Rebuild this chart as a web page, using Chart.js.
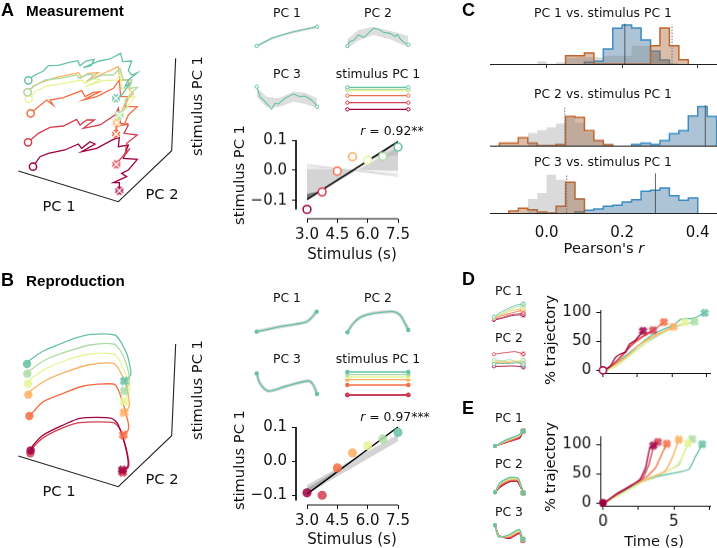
<!DOCTYPE html>
<html><head><meta charset="utf-8">
<script src="https://cdn.jsdelivr.net/npm/chart.js@4"></script>
<style>
html,body{margin:0;padding:0;background:#fff;width:717px;height:548px;overflow:hidden}
canvas{position:absolute}
.t{position:absolute;font-family:"DejaVu Sans";color:#111;white-space:nowrap;transform:translate(-50%,-50%)}
.b{font-family:"Liberation Sans";font-weight:bold;color:#000;transform:translate(0,-50%)}
</style></head><body>
<script>
const C_TEAL='#66c2a5',C_GREEN='#abdda4',C_YELLOW='#e6f598',C_ORANGE='#fdae61',C_ORED='#f46d43',C_RED='#d53e4f',C_MAG='#9e0142';
const stimulusColors=[C_MAG,C_RED,C_ORED,C_ORANGE,C_YELLOW,C_GREEN,C_TEAL];
const stimulusTicks=[3.0,4.5,6.0,7.5];
const stimulusTickLabels=['3.0','4.5','6.0','7.5'];
const stimulusValues=[3.0,3.75,4.5,5.25,6.0,6.75,7.5];

// Panel A: projected 3D trajectories (sketch units)
const aTeal=[[85,241],[100,228],[130,213],[145,197],[175,196],[205,188],[233,182],[240,197],[258,183],[283,178],[273,197],[250,203],[298,183],[330,177],[362,160],[368,185],[395,183],[385,212],[395,225],[412,218],[385,240],[375,260],[390,250],[365,285],[348,295]];
const aGreen=[[83,277],[100,260],[135,240],[180,235],[230,225],[240,235],[258,225],[280,222],[268,240],[310,225],[340,225],[360,205],[370,240],[395,240],[388,265],[412,262],[385,290],[375,300],[380,320],[358,345]];
const aOrange=[[83,277],[100,258],[130,245],[170,232],[235,218],[245,232],[265,220],[295,218],[258,245],[300,225],[355,200],[360,240],[385,240],[388,270],[400,280],[375,310],[360,345],[350,370]];
const aYellow=[[86,297],[105,275],[140,258],[190,250],[245,240],[255,250],[280,235],[300,240],[255,260],[310,242],[350,240],[362,220],[365,265],[395,265],[385,295],[405,290],[380,325],[355,340],[372,345],[358,355]];
const aOred=[[92,340],[110,325],[140,300],[160,316],[150,300],[190,293],[245,272],[255,290],[280,277],[300,275],[250,300],[290,290],[340,265],[358,240],[362,290],[385,290],[375,320],[412,320],[385,345],[372,375],[385,370],[350,380],[348,402]];
const aRed=[[84,427],[115,400],[150,382],[190,378],[230,358],[240,375],[260,360],[283,360],[250,385],[300,375],[345,345],[355,325],[362,370],[385,375],[372,400],[412,405],[380,430],[375,465],[390,445],[360,478],[350,495]];
const aMag=[[99,500],[120,470],[145,460],[195,450],[235,432],[245,445],[270,425],[285,432],[245,455],[290,445],[340,418],[358,412],[355,440],[385,435],[370,475],[412,478],[385,510],[365,520],[380,530],[340,548],[358,548],[358,572]];
const aAxes=[[55,513],[355,605],[515,452],[527,175]];

// Panel B
const bTeal=[[81,282],[90,270],[130,243],[180,222],[230,203],[275,193],[345,195],[360,212],[380,250],[390,290],[392,315],[373,333]];
const bGreen=[[82,311],[92,300],[135,270],[200,245],[270,225],[340,222],[360,240],[378,280],[388,320],[385,345],[373,363]];
const bYellow=[[84,341],[95,325],[140,295],[200,270],[270,252],[340,252],[358,270],[378,315],[390,350],[385,375],[372,395]];
const bOrange=[[85,374],[95,360],[140,330],[200,305],[265,285],[340,280],[358,300],[378,345],[388,400],[385,415],[372,428]];
const bOred=[[88,438],[100,425],[130,395],[190,370],[250,348],[340,342],[355,360],[372,410],[385,460],[385,480],[370,495]];
const bRed=[[91,550],[100,532],[130,503],[190,473],[240,458],[340,458],[360,478],[378,533],[386,572],[385,592],[368,607]];
const bMag=[[92,541],[100,525],[130,495],[190,465],[240,445],[335,445],[355,465],[375,525],[384,570],[383,590],[367,600]];
const bAxes=[[55,558],[355,650],[515,497],[527,222]];

// Small panels A
const aPc1=[[140,138],[160,128],[185,115],[215,105],[245,97],[275,90],[300,85],[321,80]];
const aPc1Up=[[140,134],[185,111],[245,93],[321,76]];
const aPc1Lo=[[140,142],[185,119],[245,101],[321,84]];
const aPc2=[[412,138],[418,125],[432,120],[445,105],[462,112],[475,100],[490,85],[505,88],[520,97],[540,100],[555,110],[562,103],[572,118],[583,128],[595,134]];
const aPc2Up=[[412,118],[445,90],[490,80],[540,92],[595,108]];
const aPc2Lo=[[412,145],[445,122],[490,105],[540,118],[595,142]];
const aPc3=[[140,260],[150,290],[170,310],[185,327],[195,310],[205,312],[225,295],[250,282],[270,290],[285,288],[300,297],[315,310],[321,320]];
const aPc3Up=[[140,262],[170,290],[205,295],[250,275],[285,278],[321,295]];
const aPc3Lo=[[140,290],[170,322],[205,322],[250,305],[285,312],[321,325]];
const aStimLevels=[[328,C_MAG],[308,C_RED],[287,C_ORED],[270,C_ORANGE],[272,C_YELLOW],[268,C_GREEN],[262,C_TEAL]];
const stimSpanA=[412,595];

// Scatter A
const aScatter=[-0.13,-0.072,-0.003,0.045,0.033,0.046,0.077];
const aFit=[[3,-0.097],[7.5,0.095]];
const aFanTop=[[3,0.005],[7.5,-0.003]];
const aFanBottom=[[3,-0.094],[7.5,0.077]];
const aFanLines=[[[3,0.019],[7.5,-0.02]],[[3,0.012],[7.5,-0.013]]];
const aFanDarkTop=[[3,-0.078],[3.55,-0.072]];
const aFanDarkBottom=[[3,-0.096],[3.55,-0.072]];
const aFanMidTop=[[6,0.038],[7.5,0.085]];
const aFanMidBottom=[[6,0.038],[7.5,0.05]];

// Small panels B
const bPc1=[[140,185],[200,172],[285,157],[300,148],[320,125]];
const bPc2=[[412,187],[430,160],[455,140],[490,130],[550,125],[570,135],[585,160],[595,180]];
const bPc3=[[140,310],[150,340],[175,363],[230,348],[295,333],[310,345],[321,372]];
const bStimLevels=[[375,C_MAG],[374,C_RED],[345,C_ORED],[329,C_ORANGE],[321,C_YELLOW],[314,C_GREEN],[306,C_TEAL]];

// Scatter B
const bScatter=[-0.093,-0.10,-0.02,0.024,0.045,0.065,0.084];
const bFit=[[3,-0.097],[7.5,0.1]];
const bFanTop=[[3,-0.07],[7.5,0.078]];
const bFanBottom=[[3,-0.096],[7.5,0.058]];
const bFanDarkTop=[[3,-0.08],[4.4,-0.03]];
const bFanDarkBottom=[[3,-0.095],[4.4,-0.04]];

// Panel C histograms: first bin start + heights per 0.025 bin
const binWidth=0.025;
const c1Grey=[-0.025,[8,1,5,18,20,20,20,25,25,25,55,55,32,10,4]];
const c1Orange=[0.05,[25,25,33,0,0,0,0,0,0,55,108,55,13]];
const c1Blue=[0.1,[5,8,45,107,117,108,72,38,12]];
const c1Solid=0.207, c1Dotted=0.332;
const c2Grey=[-0.05,[38,47,55,67,85,70,40,15,3]];
const c2Orange=[-0.125,[8,8,24,8,0,0,4,88,85,45,15,3]];
const c2Blue=[0.225,[4,8,4,15,36,45,90,118,88]];
const c2Solid=0.42, c2Dotted=0.048;
const c3Grey=[-0.05,[42,60,115,100,90,45]];
const c3Orange=[-0.1,[6,14,10,3,0,20,92,42]];
const c3Blue=[0.075,[3,8,12,20,23,33,40,65,68,75,52,38,45]];
const c3Solid=0.288, c3Dotted=0.053;
const pearsonTicks=[0,0.2,0.4];
const pearsonTickLabels=['0.0','0.2','0.4'];

// Panel D curves (time s, % trajectory)
const dMag=[[0.1,0],[0.53,7],[0.9,22],[1.26,28],[1.62,31],[1.91,45],[2.35,52],[2.9,68]];
const dRed=[[0.1,0],[0.65,9],[1.14,20],[1.74,36],[2.35,50],[2.95,60],[3.63,69]];
const dOred=[[0.1,0],[0.77,10],[1.38,24],[1.99,41],[2.71,55],[3.56,67],[4.41,83]];
const dOrange=[[0.1,0],[0.9,10],[1.75,24],[2.6,43],[3.45,56],[4.3,66],[5.1,75]];
const dYellow=[[0.17,0],[1.02,8],[1.75,22],[2.47,35],[2.95,43],[3.56,58],[4.41,66],[5.13,75],[5.93,83]];
const dGreen=[[0.29,0],[1.14,10],[1.99,27],[2.95,45],[3.92,59],[4.89,71],[5.62,78],[6.63,84]];
const dTeal=[[0.29,0],[1.02,13],[1.75,27],[2.47,41],[3.44,59],[4.41,71],[5.13,78],[5.62,88],[6.59,90],[7.36,99]];
const timeTicks=[0,2.5,5,7.5];
const dTimeLabels=['','','',''];
const eTimeLabels=['0','','5',''];
const pctTicks=[0,50,100];

// Panel E curves
const eMag=[[0.1,0],[1,16],[1.9,28],[2.6,40],[3,60],[3.3,94],[3.55,98]];
const eRed=[[0.1,0],[1,15],[1.9,29],[2.76,41],[3.2,63],[3.56,94],[3.87,104]];
const eOred=[[0.1,0],[1.1,16],[2.17,32],[3.1,45],[3.7,60],[4.2,86],[4.5,101]];
const eOrange=[[0.1,0],[1.2,19],[2.4,34],[3.6,45],[4.4,55],[4.9,78],[5.35,108]];
const eYellow=[[0.1,0],[1.3,15],[2.9,37],[4.05,50],[5.1,62],[5.6,78],[6,102]];
const eGreen=[[0.1,0],[1.3,19],[2.9,39],[4.3,52],[5.35,65],[5.8,91],[6.3,109]];
const eTeal=[[0.1,0],[1.2,16],[2.4,32],[3.8,45],[5,51],[6.05,57],[6.5,78],[7,100]];

// Small panels D
const dsP1=[[[192,165],[215,160],[240,153],[260,150],[280,150]],[[192,163],[215,158],[240,150],[260,147],[280,145]],[[192,160],[215,152],[240,145],[260,140],[280,135]],[[192,160],[215,150],[240,138],[260,134],[280,130]],[[192,155],[215,148],[240,138],[260,132],[280,128]],[[192,158],[215,145],[240,133],[260,125],[280,122]],[[192,155],[215,140],[240,128],[260,120],[280,117]]];
const dsP2=[[[192,304],[215,304],[245,303],[280,305]],[[192,268],[210,265],[235,262],[255,260],[280,267]],[[192,292],[220,295],[245,290],[280,295]],[[192,290],[215,288],[240,292],[260,288],[280,292]],[[192,288],[215,292],[240,289],[260,292],[280,289]],[[192,284],[215,288],[240,284],[260,290],[280,285]],[[192,298],[215,294],[240,296],[260,293],[280,298]]];
// Small panels E
const esP1=[[[195,543],[235,530],[268,520],[280,498]],[[195,543],[235,530],[266,518],[280,498]],[[195,543],[232,529],[266,516],[280,498]],[[195,543],[232,527],[266,514],[280,498]],[[195,543],[230,526],[266,513],[280,498]],[[195,543],[230,526],[265,512],[280,498]],[[195,543],[230,524],[265,510],[280,498]]];
const esP2=[[[195,682],[212,665],[240,650],[262,650],[280,684]],[[195,682],[212,662],[240,648],[262,648],[280,684]],[[195,682],[212,660],[240,646],[264,646],[280,684]],[[195,682],[210,658],[240,643],[264,644],[280,684]],[[195,682],[210,656],[240,641],[265,642],[280,684]],[[195,682],[210,655],[240,639],[265,641],[280,684]],[[195,682],[210,653],[240,637],[265,640],[280,684]]];
const esP3=[[[195,781],[207,812],[240,820],[268,805],[278,826]],[[195,781],[207,812],[240,818],[268,803],[278,825]],[[195,781],[207,812],[240,816],[268,801],[278,824]],[[195,781],[206,813],[238,814],[268,799],[278,823]],[[195,781],[206,814],[236,812],[268,797],[278,822]],[[195,781],[205,815],[236,811],[268,795],[278,822]],[[195,781],[205,815],[235,810],[268,793],[278,822]]];

const FONT='DejaVu Sans';
Chart.defaults.font.family=FONT;
function label(html,x,y,size,rot,cls){
  const d=document.createElement('div');d.className='t '+(cls||'');d.innerHTML=html;
  d.style.left=x+'px';d.style.top=y+'px';d.style.fontSize=size+'px';
  if(rot)d.style.transform='translate(-50%,-50%) rotate(-90deg)';
  document.body.appendChild(d);
}
function xMark(color,filled,size){
  const c=document.createElement('canvas');c.width=c.height=size;const g=c.getContext('2d');
  const a=size*0.2,b=size*0.8;
  function cross(lw,col){g.strokeStyle=col;g.lineWidth=lw;g.beginPath();g.moveTo(a,a);g.lineTo(b,b);g.moveTo(b,a);g.lineTo(a,b);g.stroke();}
  cross(size*0.4,color);
  if(!filled)cross(size*0.15,'#fff');
  return c;
}
function alpha(hex,a){const n=parseInt(hex.slice(1),16);return `rgba(${n>>16},${(n>>8)&255},${n&255},${a})`;}
function line(pts,color,lw,extra){return Object.assign({data:pts,showLine:true,borderColor:color,borderWidth:lw,pointRadius:0,clip:false,tension:0},extra||{});}
function pointAt(p,color,open,r,bw){return {data:[p],showLine:false,pointRadius:r,pointStyle:'circle',borderColor:color,borderWidth:open?(bw||1.5):0,backgroundColor:open?'#fff':color,clip:false};}
function xAt(p,color,filled,size){return {data:[p],showLine:false,pointRadius:size/2,pointStyle:xMark(color,filled,size),clip:false};}
function band(up,lo,color){return [
  {data:up,showLine:true,borderWidth:0,pointRadius:0,fill:'-1',backgroundColor:color,clip:false},
  {data:lo,showLine:true,borderWidth:0,pointRadius:0,fill:false,clip:false}];}
// sketch: chart whose hidden scales run in thirds of a page pixel
function sketch(ox,oy,w,h,list){
  const c=document.createElement('canvas');c.width=w;c.height=h;
  c.style.left=ox+'px';c.style.top=oy+'px';c.style.width=w+'px';c.style.height=h+'px';
  document.body.appendChild(c);
  new Chart(c,{type:'scatter',data:{datasets:list.slice().reverse()},options:{
    responsive:false,animation:false,events:[],layout:{padding:0,autoPadding:false},
    plugins:{legend:{display:false},tooltip:{enabled:false}},
    scales:{x:{type:'linear',display:false,min:0,max:w*3},y:{type:'linear',display:false,reverse:true,min:0,max:h*3}}
  }});
}
// axes chart: plot rectangle fixed to page pixels
function axesChart(r,m,list,xo,yo){
  const c=document.createElement('canvas');
  const W=r.r-r.l+m.l+m.r,H=r.b-r.t+m.t+m.b;
  c.width=W;c.height=H;c.style.left=(r.l-m.l)+'px';c.style.top=(r.t-m.t)+'px';c.style.width=W+'px';c.style.height=H+'px';
  document.body.appendChild(c);
  const base=(ticks,labels,opts)=>Object.assign({
    type:'linear',
    afterBuildTicks:s=>{s.ticks=ticks.map(v=>({value:v}));},
    grid:{display:true,drawOnChartArea:false,drawTicks:true,tickLength:4,tickColor:opts.tickColor||'#111',tickWidth:1},
    ticks:{display:true,color:'#111',font:{family:FONT,size:15},padding:opts.pad,autoSkip:false,maxRotation:0,minRotation:0,
      callback:(v,i)=>labels[i]}
  },opts.rest);
  new Chart(c,{type:'scatter',data:{datasets:list.slice().reverse()},options:{
    responsive:false,animation:false,events:[],layout:{padding:{top:m.t,right:m.r,left:0,bottom:0},autoPadding:false},
    plugins:{legend:{display:false},tooltip:{enabled:false}},
    scales:{
      x:base(xo.ticks,xo.labels,{pad:xo.pad,tickColor:xo.tickColor,rest:{min:xo.min,max:xo.max,border:xo.border,afterFit:s=>{s.height=m.b;}}}),
      y:base(yo.ticks,yo.labels,{pad:yo.pad,rest:{min:yo.min,max:yo.max,border:yo.border,afterFit:s=>{s.width=m.l;}}})
    }
  }});
}
function histPts(b){const s=b[0],h=b[1];const o=[[s,0]];h.forEach((v,i)=>o.push([s+i*binWidth,v]));o.push([s+h.length*binWidth,0]);return o;}
function hist(b,stroke,fill,lw){return {data:histPts(b),showLine:true,stepped:true,borderColor:stroke,borderWidth:lw,backgroundColor:fill,fill:'origin',pointRadius:0};}

// ---- Panel A 3D
const aSeries=[[aMag,C_MAG,[358,572]],[aRed,C_RED,[349,493]],[aOred,C_ORED,[348,402]],[aOrange,C_ORANGE,[350,368]],[aYellow,C_YELLOW,[357,347]],[aGreen,C_GREEN,[358,345]],[aTeal,C_TEAL,[348,295]]];
let listA=[line(aAxes,'#222',1.1)];
aSeries.forEach(s=>{listA.push(line(s[0],s[1],1.3));});
aSeries.forEach(s=>{listA.push(pointAt(s[0][0],s[1],true,3.6));listA.push(xAt(s[2],s[1],false,10));});
sketch(0,0,210,270,listA);

// ---- Panel B 3D
const bSeries=[[bTeal,C_TEAL],[bGreen,C_GREEN],[bYellow,C_YELLOW],[bOrange,C_ORANGE],[bOred,C_ORED],[bRed,C_RED],[bMag,C_MAG]];
let listB=[line(bAxes,'#222',1.1)];
bSeries.forEach(s=>{listB.push(line(s[0],s[1],1.3,{tension:0.25}));});
bSeries.forEach(s=>{const p=s[0];listB.push(pointAt(p[0],alpha(s[1],0.85),false,4.2));listB.push(xAt(p[p.length-1],alpha(s[1],0.85),true,11));});
sketch(0,270,210,278,listB);

// ---- small panels A
const levelsA=aStimLevels.flatMap(l=>{const a=[stimSpanA[0],l[0]],b=[stimSpanA[1],l[0]];return [line([a,b],l[1],1.1),pointAt(a,l[1],true,1.7,1),pointAt(b,l[1],true,1.7,1)];});
function smallA(p,u,lo){return [...band(u,lo,'rgba(205,205,205,0.65)'),line(p,C_TEAL,1.1),pointAt(p[0],C_TEAL,true,1.7,1),pointAt(p[p.length-1],C_TEAL,true,1.7,1)];}
sketch(210,0,220,118,[...smallA(aPc1,aPc1Up,aPc1Lo),...smallA(aPc2,aPc2Up,aPc2Lo),...smallA(aPc3,aPc3Up,aPc3Lo),...levelsA]);

// ---- small panels B
const levelsB=bStimLevels.flatMap(l=>{const a=[412,l[0]],b=[595,l[0]];return [line([a,b],l[1],1.3),pointAt(a,l[1],false,2.2),pointAt(b,l[1],false,2.2)];});
function smallB(p){return [line(p,'#d8d8d8',3.5,{tension:0.3}),line(p,C_TEAL,1.3,{tension:0.3}),pointAt(p[0],C_TEAL,false,2.2),pointAt(p[p.length-1],C_TEAL,false,2.2)];}
sketch(210,270,220,135,[...smallB(bPc1),...smallB(bPc2),...smallB(bPc3),...levelsB]);

// ---- scatter panels
function scatterPanel(rect,ymin,ymax,vals,fit,bands,fanLines,spineBottom,filled){
  const xmin=3-(307-296)/(91/4.5);
  const list=[];
  bands.forEach(b=>list.push(...band(b[0],b[1],b[2])));
  fanLines.forEach(f=>list.push(line(f,'#d4d4d4',1)));
  list.push(line(fit,'#000',1.5));
  vals.forEach((v,i)=>{const p=[stimulusValues[i],v];const col=stimulusColors[i];
    list.push(filled?pointAt(p,alpha(col,0.85),false,4.6):pointAt(p,col,true,3.9,1.5));});
  list.push(line([[xmin,0.1],[xmin,spineBottom]],'#111',1));
  list.push(line([[3,ymin],[7.5,ymin]],'#111',1));
  axesChart(rect,{l:50,t:12,r:22,b:30},list,
    {ticks:stimulusTicks,labels:stimulusTickLabels,min:xmin,max:7.5,pad:3,border:{display:false}},
    {ticks:[-0.1,0,0.1],labels:['\u22120.1','0.0','0.1'],min:ymin,max:ymax,pad:5,border:{display:false}});
}
scatterPanel({l:296,t:138.3,r:398,b:219},-0.1+(-19/310),0.1,aScatter,aFit,
  [[aFanTop,aFanBottom,'rgba(212,212,212,1)'],[aFanMidTop,aFanMidBottom,'rgba(150,150,150,0.3)'],[aFanDarkTop,aFanDarkBottom,'rgba(90,90,90,0.75)']],aFanLines,-0.13,false);
scatterPanel({l:296,t:425,r:398,b:505},-0.1-10/350,0.1,bScatter,bFit,
  [[bFanTop,bFanBottom,'rgba(205,205,205,0.85)'],[bFanDarkTop,bFanDarkBottom,'rgba(130,130,130,0.5)']],[],-0.115,true);

// ---- Panel C
function histRow(top,bottom,g,o,b,solid,dotted,lineTop,showTicks,showLabels){
  const units=(bottom-top)*3;
  const list=[
    hist(b,'#3a8cc4','rgba(60,115,160,0.42)',1.5),
    hist(o,'#c2652b','rgba(170,100,50,0.42)',1.5),
    hist(g,'rgba(0,0,0,0)','rgba(120,120,120,0.27)',0),
    line([[solid,0],[solid,lineTop]],'rgba(60,60,60,0.8)',1,{clip:true}),
    line([[dotted,0],[dotted,lineTop-3]],'#777',1,{borderDash:[1.5,1.5]})
  ];
  axesChart({l:490,t:top,r:717,b:bottom},{l:1,t:2,r:0,b:28},list,
    {ticks:pearsonTicks,labels:showLabels?pearsonTickLabels:['','',''],min:-0.15,max:0.451,pad:showLabels?7:0,tickColor:showTicks?'#333':'rgba(0,0,0,0)',border:{display:true,color:'#222',width:1}},
    {ticks:[],labels:[],min:0,max:units,pad:0,border:{display:false}});
}
histRow(19.7,63.7,c1Grey,c1Orange,c1Blue,c1Solid,c1Dotted,121,true,false);
histRow(101.7,145.7,c2Grey,c2Orange,c2Blue,c2Solid,c2Dotted,122,false,false);
histRow(169,213,c3Grey,c3Orange,c3Blue,c3Solid,c3Dotted,119,false,true);

// ---- Panels D, E curves
function curveChart(rect,m,curves,xmin,xmax,ymin,ymax,xT,xL,yT,startOpen){
  const list=[];
  for(let i=curves.length-1;i>=0;i--)list.push(line(curves[i],stimulusColors[i],1.3,{tension:0.15}));
  for(let i=curves.length-1;i>=0;i--){const c=curves[i];list.push(xAt(c[c.length-1],alpha(stimulusColors[i],0.85),true,10));}
  if(startOpen)list.push(pointAt([0,0],C_MAG,true,3.6,1.5));
  else list.push(pointAt([0,0],C_MAG,false,3.8));
  axesChart(rect,m,list,
    {ticks:xT,labels:xL,min:xmin,max:xmax,pad:3,border:{display:true,color:'#111'}},
    {ticks:yT,labels:yT.map(String),min:ymin,max:ymax,pad:5,border:{display:true,color:'#111'}});
}
const dC=[dMag,dRed,dOred,dOrange,dYellow,dGreen,dTeal];
const eC=[eMag,eRed,eOred,eOrange,eYellow,eGreen,eTeal];
curveChart({l:600,t:301.7,r:709.5,b:379},{l:50,t:6,r:8,b:8},dC,-8/41.3,320/41.3,-4.7,104,timeTicks,dTimeLabels,pctTicks,true);
curveChart({l:600,t:428,r:709.5,b:505.7},{l:50,t:6,r:8,b:30},eC,-8/42.4,320/42.4,-5,114,timeTicks,eTimeLabels,pctTicks,false);

// ---- small panels D, E
function fan(set,open,lw){
  const o=[];
  set.forEach((p,i)=>o.push(line(p,stimulusColors[i],lw,{tension:0.2})));
  set.forEach((p,i)=>{const c=stimulusColors[i];
    o.push(open?pointAt(p[0],c,true,1.6,0.8):pointAt(p[0],c,false,2));
    o.push(xAt(p[p.length-1],c,!open,6));});
  return o;
}
sketch(430,265,287,283,[...fan(dsP1,true,0.9),...fan(dsP2,true,0.9),...fan(esP1,false,1.2),...fan(esP2,false,1.2),...fan(esP3,false,1.2)]);

// ---- text
label('A',1,9.5,18,0,'b');label('Measurement',26,10,15.2,0,'b');
label('B',1,279.5,18,0,'b');label('Reproduction',26,280,15.2,0,'b');
label('C',462,9.5,18,0,'b');label('D',462,278.5,18,0,'b');label('E',462,407.5,18,0,'b');
[['PC 1',59,205],['PC 2',162,193],['PC 1',59,490],['PC 2',162,478]].forEach(a=>label(a[0],a[1],a[2],14.7));
label('stimulus PC 1',196,106,14.7,true);label('stimulus PC 1',196,390,14.7,true);
[['PC 1',287,12],['PC 2',378,12],['PC 3',287,73],['stimulus PC 1',378,73],
 ['PC 1',287,297],['PC 2',378,297],['PC 3',287,358],['stimulus PC 1',378,358],
 ['PC 1',509,290],['PC 2',509,337],['PC 1',509,417],['PC 2',509,463],['PC 3',509,511],
 ['PC 1 vs. stimulus PC 1',603,12],['PC 2 vs. stimulus PC 1',603,93],['PC 3 vs. stimulus PC 1',603,161]
].forEach(a=>label(a[0],a[1],a[2],12.4));
label('stimulus PC 1',238,175,14.7,true);label('stimulus PC 1',238,460,14.7,true);
label('Stimulus (s)',352,254,15);label('Stimulus (s)',352,539,15);
label('<i>r</i> = 0.92**',392,130,12.4);label('<i>r</i> = 0.97***',395,416,12.4);
label("Pearson's <i>r</i>",604,247,14.7);
label('% trajectory',549,340,14.7,true);label('% trajectory',549,467,14.7,true);
label('Time (s)',654,540,14.7);
</script>
</body></html>
